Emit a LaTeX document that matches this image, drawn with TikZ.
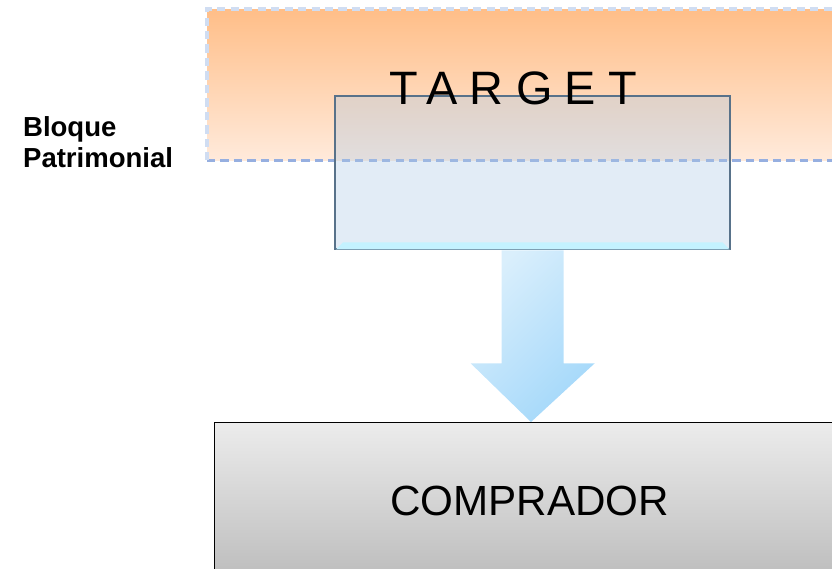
\documentclass[tikz,border=0pt]{standalone}
\usepackage{fontspec}
\setmainfont{Liberation Sans}
\usepackage{tikz}
\usetikzlibrary{positioning,calc}

\definecolor{zonetop}{RGB}{255,190,136}
\definecolor{zonebot}{RGB}{255,234,219}
\definecolor{dashdark}{RGB}{150,175,224}
\definecolor{dashlight}{RGB}{208,221,242}
\definecolor{boxfill}{RGB}{171,200,229}
\definecolor{boxline}{RGB}{88,114,138}
\definecolor{bevel}{RGB}{196,242,255}
\definecolor{arrowlight}{RGB}{218,239,252}
\definecolor{arrowdark}{RGB}{164,216,250}
\definecolor{comptop}{RGB}{236,236,236}
\definecolor{compbot}{RGB}{188,188,188}

\tikzset{
  zone/.style={inner sep=0pt, top color=zonetop, bottom color=zonebot,
    minimum width=19cm, minimum height=4.53cm},
  zoneline/.style={line width=2.8pt, dash pattern=on 7pt off 4.5pt},
  targetbox/.style={draw=boxline, line width=2pt, fill=boxfill, fill opacity=0.35,
    inner sep=0pt, minimum width=11.85cm, minimum height=4.59cm},
  buyerbox/.style={draw=black, line width=0.8pt, top color=comptop, bottom color=compbot,
    inner sep=0pt, minimum width=18.9cm, minimum height=4.74cm,
    font=\fontsize{36}{40}\selectfont},
  bigarrow/.style={top color=arrowlight, middle color=arrowlight, bottom color=arrowdark,
    shading angle=45}
}

\begin{document}
\begin{tikzpicture}[x=0.03cm, y=-0.03cm]
  \useasboundingbox (0,0) rectangle (832,569);
  \clip (0,0) rectangle (832,569);

  % zona patrimonial
  \node[zone, anchor=north west] (zone) at (207,9) {};
  \draw[zoneline, dashdark] (zone.south west) -- (zone.south east);
  \draw[zoneline, dashlight] (zone.south west) -- (zone.north west) -- (zone.north east);

  \node[font=\bfseries\fontsize{23.5}{26}\selectfont, align=left, anchor=west] (bloque) at (19,142)
    {Bloque\\Patrimonial};

  % caja target
  \node[targetbox, anchor=north west] (tbox) at (334,95) {};
  \fill[bevel] ($(tbox.south west)+(2,-1)$) -- ($(tbox.south east)+(-2,-1)$)
    -- ($(tbox.south east)+(-9,-8)$) -- ($(tbox.south west)+(9,-8)$) -- cycle;
  \node[font=\fontsize{40}{44}\selectfont\addfontfeature{LetterSpace=26}] (target) at (513,88)
    {TARGET};

  % comprador
  \node[buyerbox, anchor=north west] (buyer) at (214,422) {COMPRADOR};

  % flecha
  \path[bigarrow] ($(tbox.south)+(-31,0)$) -- ($(tbox.south)+(31,0)$)
    -- ($(tbox.south)+(31,113)$) -- ($(tbox.south)+(62,113)$)
    -- ($(buyer.north west)+(317,0)$) -- ($(tbox.south)+(-62,113)$)
    -- ($(tbox.south)+(-31,113)$) -- cycle;
\end{tikzpicture}
\end{document}
